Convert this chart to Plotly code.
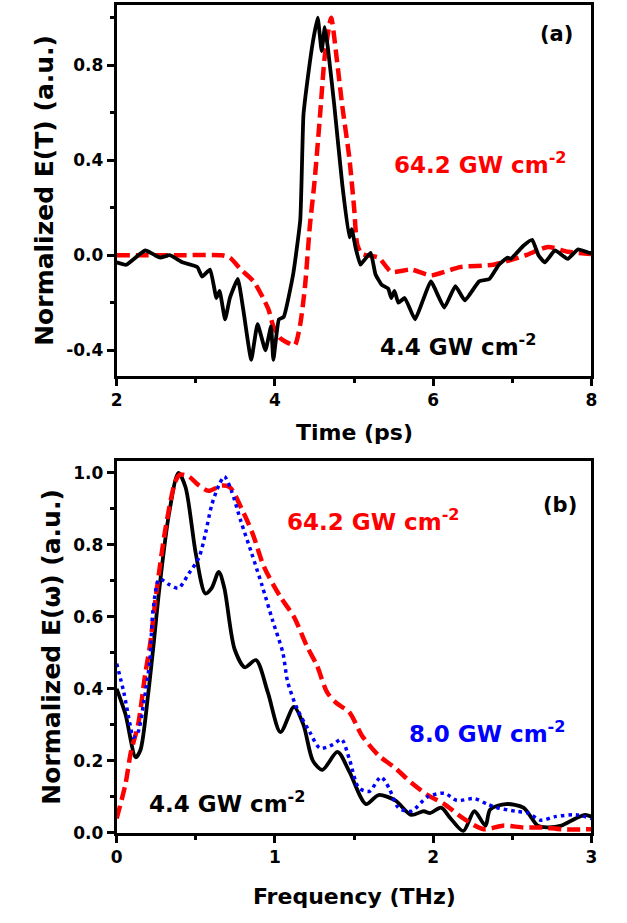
import plotly.graph_objects as go

# ---- Panel (a): time-domain THz field ----
t_low = [2.0, 2.12, 2.36, 2.55, 2.67, 2.83, 3.02, 3.08, 3.18, 3.26, 3.30, 3.37, 3.43, 3.53,
         3.60, 3.70, 3.78, 3.88, 3.95, 3.98, 4.05, 4.11, 4.23, 4.32, 4.36, 4.42, 4.48, 4.54,
         4.59, 4.63, 4.67, 4.75, 4.85, 4.94, 4.97, 5.02, 5.08, 5.13, 5.21, 5.27, 5.35, 5.43,
         5.47, 5.51, 5.56, 5.64, 5.77, 5.87, 5.97, 6.14, 6.28, 6.40, 6.58, 6.71, 6.83, 6.94,
         6.98, 7.14, 7.25, 7.33, 7.41, 7.54, 7.70, 7.83, 7.97, 8.0]
e_low = [-0.03, -0.04, 0.02, -0.01, 0.0, -0.03, -0.05, -0.09, -0.06, -0.18, -0.15, -0.27, -0.18, -0.10,
         -0.23, -0.44, -0.29, -0.40, -0.30, -0.44, -0.27, -0.26, -0.08, 0.15, 0.59, 0.76, 0.90, 1.0,
         0.86, 0.96, 0.87, 0.63, 0.30, 0.075, 0.11, 0.03, -0.04, -0.02, 0.01, -0.08, -0.125, -0.14,
         -0.18, -0.15, -0.20, -0.18, -0.27, -0.19, -0.11, -0.22, -0.13, -0.19, -0.11, -0.10, -0.04, -0.01,
         -0.015, 0.04, 0.065, 0.0, -0.03, 0.02, -0.015, 0.025, 0.01, 0.01]

t_high = [2.0, 2.4, 2.83, 3.33, 3.43, 3.57, 3.73, 3.85, 3.92, 3.98, 4.07, 4.17, 4.25, 4.32,
          4.38, 4.44, 4.50, 4.57, 4.63, 4.71, 4.78, 4.85, 4.94, 5.0, 5.04, 5.10, 5.31, 5.47,
          5.72, 5.97, 6.34, 6.76, 7.17, 7.45, 7.70, 8.0]
e_high = [0.0, 0.0, 0.0, 0.0, -0.01, -0.06, -0.11, -0.18, -0.23, -0.30, -0.35, -0.37, -0.38, -0.29,
          -0.13, 0.12, 0.31, 0.59, 0.84, 1.0, 0.83, 0.63, 0.41, 0.2, 0.045, 0.005, -0.01, -0.07,
          -0.06, -0.085, -0.05, -0.04, 0.0, 0.035, 0.015, 0.005]

# ---- Panel (b): normalized spectra ----
f_low = [0.0, 0.055, 0.12, 0.15, 0.20, 0.23, 0.27, 0.33, 0.39, 0.435, 0.50, 0.56, 0.60, 0.645,
         0.68, 0.745, 0.81, 0.88, 0.955, 1.035, 1.12, 1.18, 1.24, 1.30, 1.395, 1.47, 1.575, 1.655,
         1.76, 1.86, 1.94, 1.98, 2.05, 2.11, 2.19, 2.26, 2.33, 2.36, 2.46, 2.57, 2.66, 2.72,
         2.81, 2.90, 2.96, 3.0]
s_low = [0.40, 0.33, 0.21, 0.23, 0.39, 0.51, 0.68, 0.885, 1.0, 0.96, 0.775, 0.665, 0.68, 0.725,
         0.68, 0.51, 0.46, 0.48, 0.39, 0.28, 0.35, 0.30, 0.20, 0.175, 0.225, 0.17, 0.08, 0.105,
         0.09, 0.05, 0.06, 0.055, 0.07, 0.04, 0.005, 0.06, 0.02, 0.065, 0.08, 0.07, 0.02, 0.015,
         0.02, 0.04, 0.05, 0.045]

f_mid = [0.0, 0.045, 0.085, 0.105, 0.135, 0.17, 0.21, 0.23, 0.27, 0.33, 0.39, 0.455, 0.52, 0.56,
         0.60, 0.645, 0.68, 0.725, 0.785, 0.85, 0.92, 0.985, 1.05, 1.08, 1.14, 1.22, 1.285, 1.365,
         1.42, 1.47, 1.53, 1.595, 1.67, 1.72, 1.78, 1.86, 1.965, 2.07, 2.15, 2.26, 2.34, 2.40,
         2.52, 2.60, 2.68, 2.77, 2.90, 3.0]
s_mid = [0.47, 0.39, 0.30, 0.265, 0.28, 0.36, 0.48, 0.62, 0.705, 0.69, 0.68, 0.72, 0.765, 0.83,
         0.91, 0.965, 0.99, 0.95, 0.865, 0.78, 0.685, 0.59, 0.50, 0.42, 0.345, 0.28, 0.235, 0.245,
         0.26, 0.205, 0.125, 0.115, 0.155, 0.125, 0.07, 0.06, 0.10, 0.11, 0.09, 0.095, 0.08, 0.07,
         0.06, 0.055, 0.035, 0.045, 0.05, 0.04]

f_high = [0.0, 0.055, 0.09, 0.135, 0.18, 0.21, 0.25, 0.31, 0.37, 0.40, 0.455, 0.52, 0.58, 0.665,
          0.715, 0.79, 0.86, 0.93, 1.035, 1.12, 1.20, 1.265, 1.33, 1.39, 1.47, 1.55, 1.655, 1.76,
          1.86, 1.965, 2.07, 2.19, 2.32, 2.44, 2.57, 2.69, 2.81, 3.0]
s_high = [0.04, 0.135, 0.225, 0.30, 0.44, 0.52, 0.665, 0.85, 0.975, 0.995, 0.99, 0.965, 0.95, 0.965,
          0.96, 0.90, 0.83, 0.74, 0.655, 0.60, 0.52, 0.465, 0.39, 0.36, 0.335, 0.27, 0.215, 0.18,
          0.14, 0.105, 0.08, 0.04, 0.01, 0.02, 0.015, 0.015, 0.01, 0.01]

time_ticks = [2, 4, 6, 8]
field_ticks = [-0.4, 0.0, 0.4, 0.8]
field_labels = ["-0.4", "0.0", "0.4", "0.8"]
freq_ticks = [0, 1, 2, 3]
spec_ticks = [0.0, 0.2, 0.4, 0.6, 0.8, 1.0]
spec_labels = ["0.0", "0.2", "0.4", "0.6", "0.8", "1.0"]

BLACK = "#000000"
RED = "#ff0000"
BLUE = "#0000ff"
FONT = "DejaVu Sans, sans-serif"
DASH = "13px,6px"

fig = go.Figure()

fig.add_trace(go.Scatter(x=t_high, y=e_high, xaxis="x", yaxis="y", mode="lines",
                         line=dict(color=RED, width=4.5, dash=DASH, shape="spline", smoothing=0.6)))
fig.add_trace(go.Scatter(x=t_low, y=e_low, xaxis="x", yaxis="y", mode="lines",
                         line=dict(color=BLACK, width=3.8, shape="spline", smoothing=0.4)))

fig.add_trace(go.Scatter(x=f_low, y=s_low, xaxis="x2", yaxis="y2", mode="lines",
                         line=dict(color=BLACK, width=3.8, shape="spline", smoothing=0.8)))
fig.add_trace(go.Scatter(x=f_high, y=s_high, xaxis="x2", yaxis="y2", mode="lines",
                         line=dict(color=RED, width=4.5, dash=DASH, shape="spline", smoothing=0.8)))
fig.add_trace(go.Scatter(x=f_mid, y=s_mid, xaxis="x2", yaxis="y2", mode="lines",
                         line=dict(color=BLUE, width=3.5, dash="3.5px,4px", shape="spline", smoothing=0.8)))

tickfont = dict(family=FONT, size=17, color=BLACK, weight="bold")
xtitlefont = dict(family=FONT, size=22, color=BLACK, weight="bold")
ytitlefont = dict(family=FONT, size=25, color=BLACK, weight="bold")
axis_common = dict(showline=True, linewidth=3, linecolor=BLACK, mirror=True, showgrid=False,
                   zeroline=False, ticks="outside", ticklen=7, tickwidth=2.5, tickcolor=BLACK,
                   tickfont=tickfont)
minor_common = dict(ticks="outside", ticklen=4, tickwidth=2.5, tickcolor=BLACK)

fig.update_layout(
    width=627, height=923, margin=dict(l=0, r=0, t=0, b=0),
    paper_bgcolor="white", plot_bgcolor="white", showlegend=False,
    xaxis=dict(axis_common, domain=[0.180, 0.952], range=[2, 8], anchor="y",
               tickvals=time_ticks, minor=dict(minor_common, dtick=1)),
    yaxis=dict(axis_common, domain=[0.5883, 0.9946], range=[-0.508, 1.054], anchor="x",
               tickvals=field_ticks, ticktext=field_labels,
               minor=dict(minor_common, dtick=0.2, tick0=0),
               title=dict(text="Normalized E(T) (a.u.)", font=ytitlefont, standoff=6)),
    xaxis2=dict(axis_common, domain=[0.180, 0.952], range=[0, 3], anchor="y2",
                tickvals=freq_ticks, minor=dict(minor_common, dtick=0.5)),
    yaxis2=dict(axis_common, domain=[0.0878, 0.4951], range=[0, 1.033], anchor="x2",
                tickvals=spec_ticks, ticktext=spec_labels,
                minor=dict(minor_common, dtick=0.1, tick0=0),
                title=dict(text="Normalized E(ω) (a.u.)", font=ytitlefont, standoff=6)),
)

# x-axis titles
fig.add_annotation(xref="paper", yref="paper", x=0.566, y=0.5265, text="Time (ps)",
                   showarrow=False, font=xtitlefont, yanchor="middle")
fig.add_annotation(xref="paper", yref="paper", x=0.566, y=0.0184, text="Frequency (THz)",
                   showarrow=False, font=xtitlefont, yanchor="middle")

labels = [
    ("x", "y", 7.56, 0.93, "(a)", BLACK, 21),
    ("x", "y", 6.6, 0.39, "64.2 GW cm<sup>-2</sup>", RED, 23),
    ("x", "y", 6.32, -0.38, "4.4 GW cm<sup>-2</sup>", BLACK, 23),
    ("x2", "y2", 2.80, 0.91, "(b)", BLACK, 21),
    ("x2", "y2", 1.62, 0.87, "64.2 GW cm<sup>-2</sup>", RED, 23),
    ("x2", "y2", 2.34, 0.28, "8.0 GW cm<sup>-2</sup>", BLUE, 23),
    ("x2", "y2", 0.70, 0.085, "4.4 GW cm<sup>-2</sup>", BLACK, 23),
]
for xr, yr, xv, yv, txt, col, sz in labels:
    fig.add_annotation(xref=xr, yref=yr, x=xv, y=yv, text=txt, showarrow=False,
                       font=dict(family=FONT, weight="bold", color=col, size=sz))

fig.write_html("out.html")
